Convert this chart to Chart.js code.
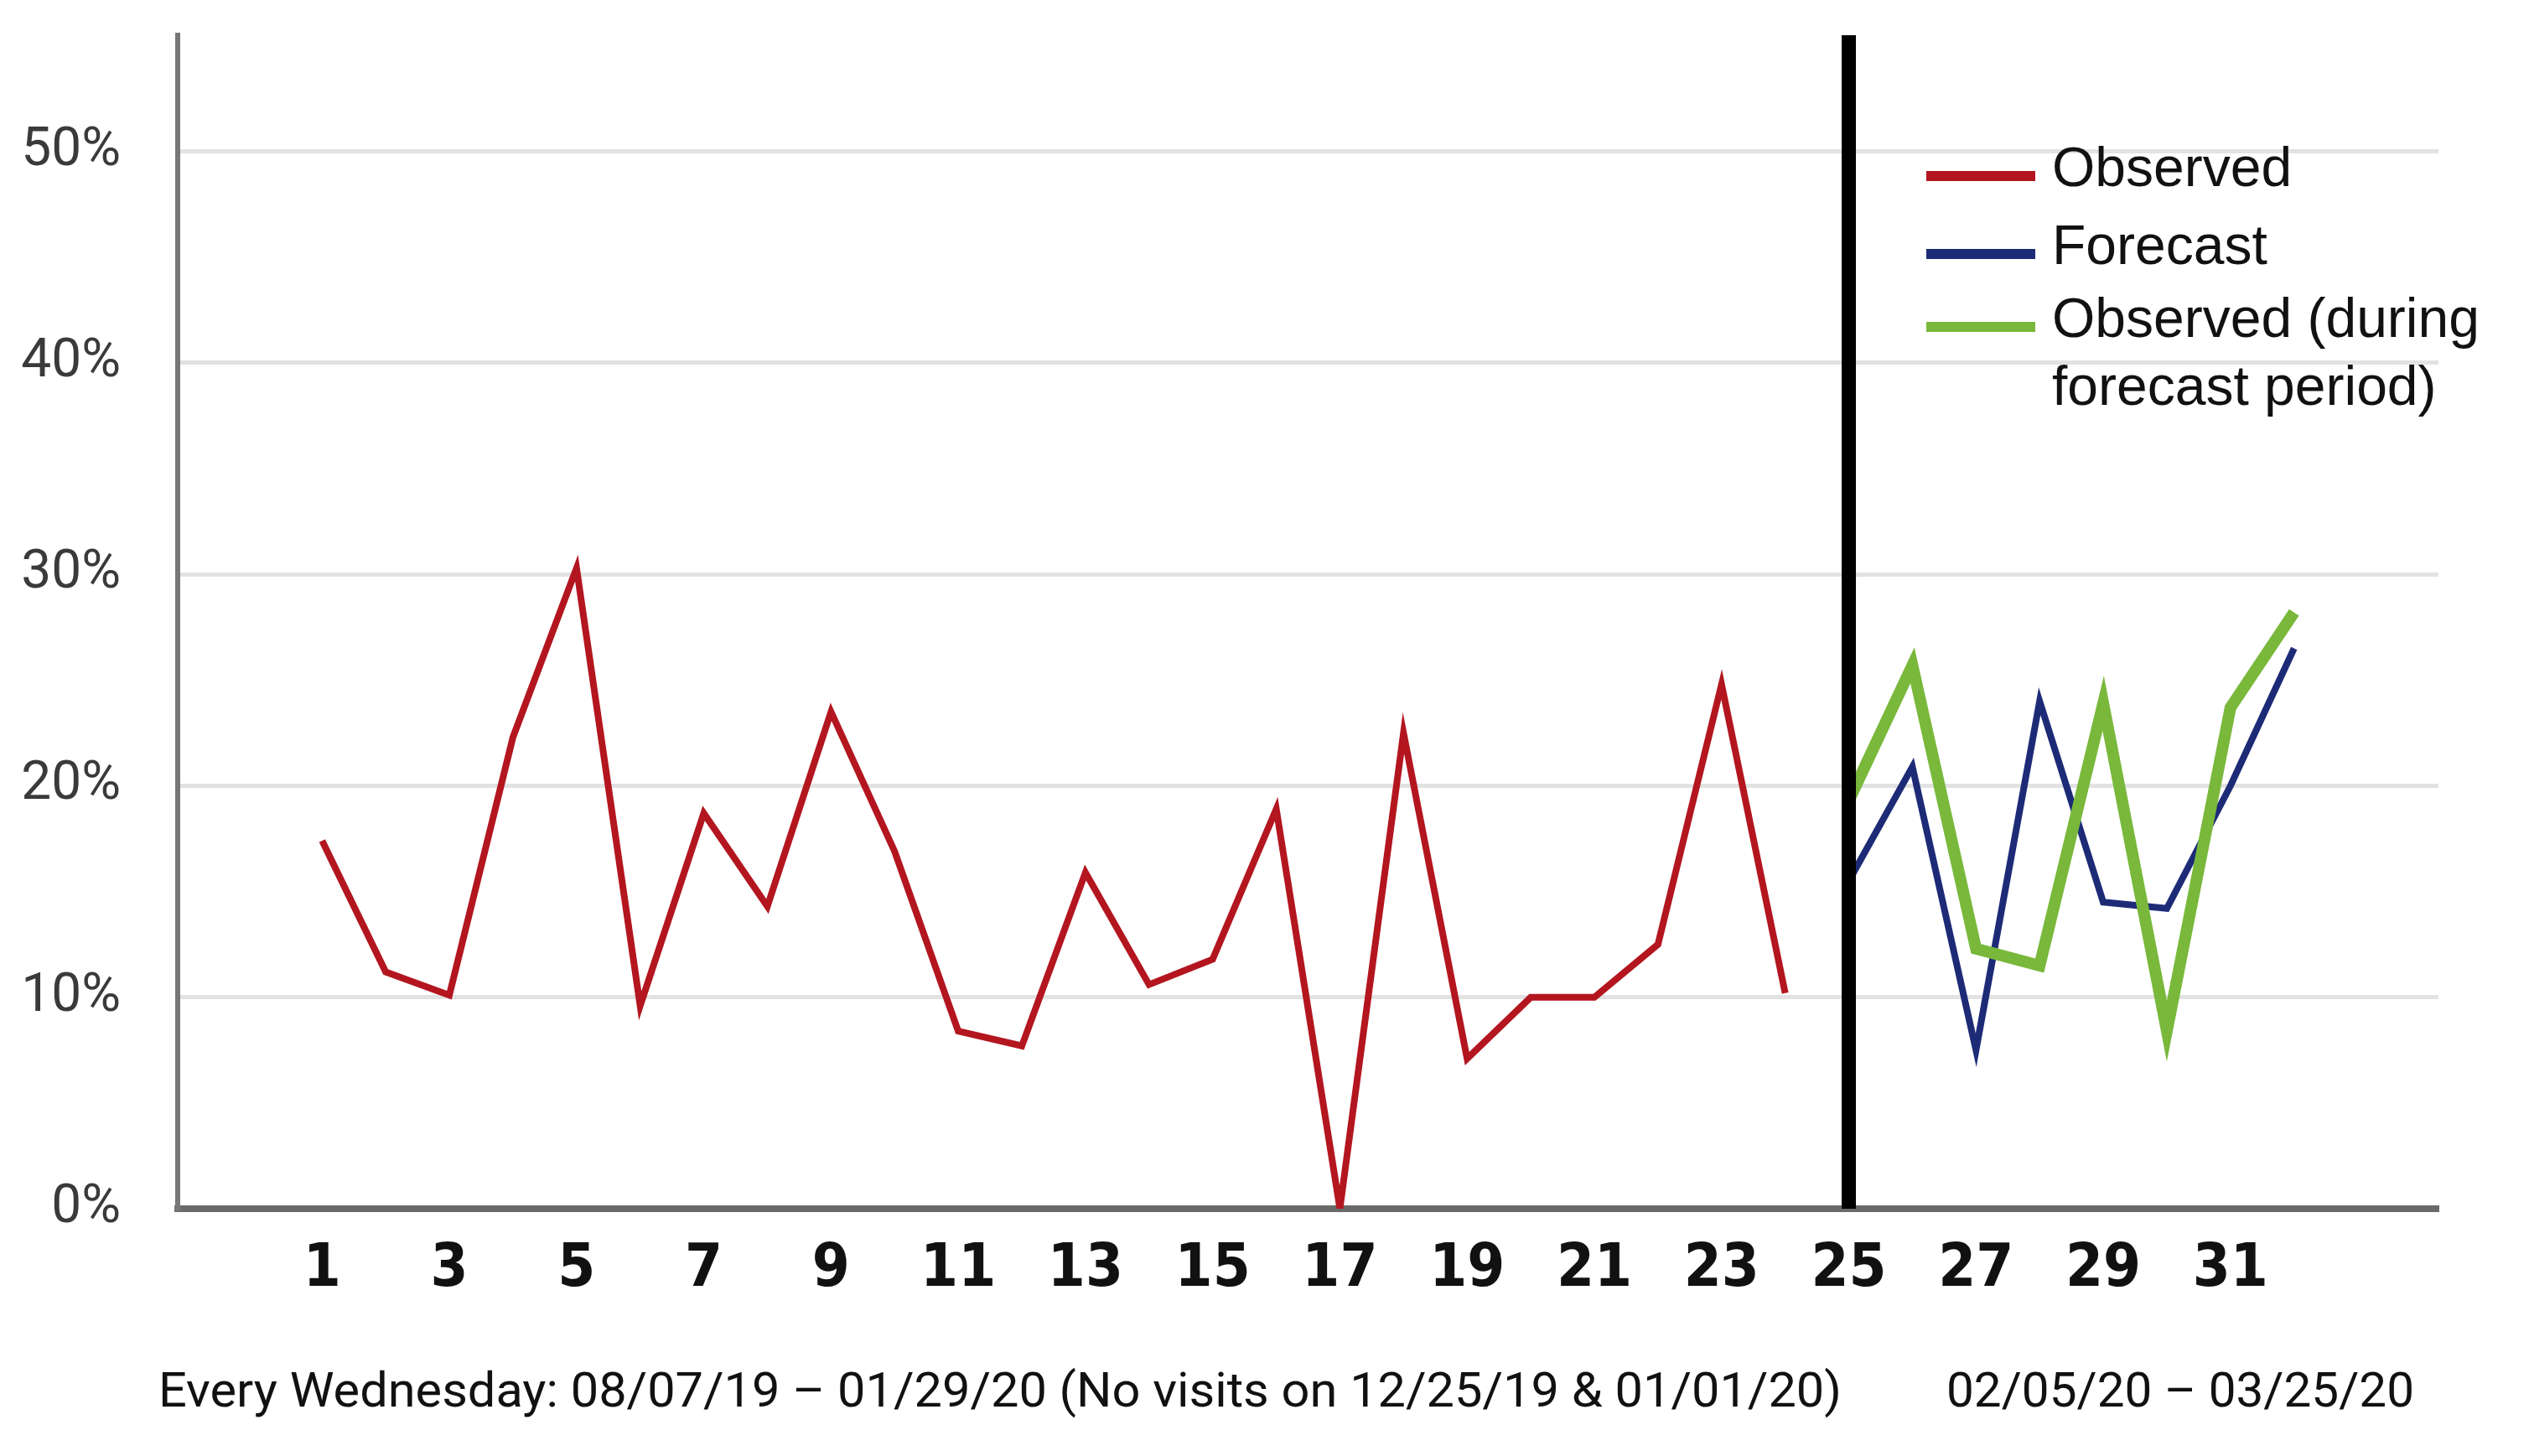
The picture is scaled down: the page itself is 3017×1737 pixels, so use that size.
<!DOCTYPE html>
<html>
<head>
<meta charset="utf-8">
<script src="https://cdn.jsdelivr.net/npm/chart.js@4/dist/chart.umd.min.js"></script>
<style>
  html, body { margin: 0; padding: 0; background: #ffffff; }
  #wrap { width: 3017px; height: 1737px; }
</style>
</head>
<body>
<div id="wrap"><canvas id="c" width="3017" height="1737"></canvas></div>
<script>
// ---- data ----
const observedWeeks = [1,2,3,4,5,6,7,8,9,10,11,12,13,14,15,16,17,18,19,20,21,22,23,24];
const observed = [17.4,11.2,10.1,22.3,30.3,9.6,18.7,14.3,23.5,16.9,8.4,7.7,15.9,10.6,11.8,18.9,0.0,22.5,7.1,10.0,10.0,12.5,24.8,10.2];
const forecastWeeks = [25,26,27,28,29,30,31,32];
const forecast = [15.5,20.9,7.5,24.0,14.5,14.2,20.0,26.5];
const observedDuringForecast = [19.3,25.7,12.3,11.5,23.9,8.4,23.7,28.2];
const forecastStartWeek = 25;
const xTickLabels = [1,3,5,7,9,11,13,15,17,19,21,23,25,27,29,31];
const yTickLabels = [0,10,20,30,40,50];
const yMax = 55.5;
const seriesNames = ["Observed", "Forecast", "Observed (during\nforecast period)"];
const captions = ["Every Wednesday: 08/07/19 \u2013 01/29/20 (No visits on 12/25/19 & 01/01/20)", "02/05/20 \u2013 03/25/20"];

const toPts = (xs, ys) => xs.map((x, i) => ({x: x, y: ys[i]}));

const RED = '#B3161F', BLUE = '#1D2B77', GREEN = '#79B83B';

const legendPlugin = {
  id: 'customLegend',
  afterDraw(chart) {
    const ctx = chart.ctx;
    const items = [
      {name: seriesNames[0], color: RED, y: 210},
      {name: seriesNames[1], color: BLUE, y: 303},
      {name: seriesNames[2], color: GREEN, y: 390}
    ];
    ctx.save();
    ctx.font = '66px "Liberation Sans", Arial, sans-serif';
    ctx.textBaseline = 'middle';
    ctx.textAlign = 'left';
    items.forEach(it => {
      ctx.strokeStyle = it.color;
      ctx.lineWidth = 12;
      ctx.beginPath();
      ctx.moveTo(2298, it.y);
      ctx.lineTo(2428, it.y);
      ctx.stroke();
      ctx.fillStyle = '#111111';
      const lines = it.name.split('\n');
      lines.forEach((ln, k) => ctx.fillText(ln, 2448, it.y - 6 + k * 81));
    });
    // captions below the axis
    ctx.font = '58px Roboto, "Noto Sans", sans-serif';
    ctx.textBaseline = 'alphabetic';
    ctx.fillStyle = '#111111';
    const capPos = [[189, 2008], [2322, 558]];
    captions.forEach((t, i) => {
      const w = ctx.measureText(t).width;
      ctx.save();
      ctx.translate(capPos[i][0], 1678);
      ctx.scale(capPos[i][1] / w, 1);
      ctx.fillText(t, 0, 0);
      ctx.restore();
    });
    ctx.restore();
  }
};

new Chart(document.getElementById('c'), {
  type: 'line',
  data: {
    datasets: [
      {
        label: 'divider',
        data: [{x: forecastStartWeek, y: 0}, {x: forecastStartWeek, y: yMax}],
        borderColor: '#000000', borderWidth: 17, pointRadius: 0, tension: 0
      },
      {
        label: seriesNames[2],
        data: toPts(forecastWeeks, observedDuringForecast),
        borderColor: GREEN, borderWidth: 14, pointRadius: 0, tension: 0
      },
      {
        label: seriesNames[1],
        data: toPts(forecastWeeks, forecast),
        borderColor: BLUE, borderWidth: 8, pointRadius: 0, tension: 0
      },
      {
        label: seriesNames[0],
        data: toPts(observedWeeks, observed),
        borderColor: RED, borderWidth: 8, pointRadius: 0, tension: 0
      }
    ]
  },
  options: {
    responsive: false,
    animation: false,
    devicePixelRatio: 1,
    layout: { padding: { top: 42, right: 108, left: 0, bottom: 0 } },
    plugins: { legend: { display: false }, tooltip: { enabled: false } },
    elements: { line: { borderJoinStyle: 'miter', borderCapStyle: 'butt' } },
    scales: {
      x: {
        type: 'linear',
        min: -1.27, max: 34.27,
        afterBuildTicks: s => { s.ticks = xTickLabels.map(v => ({value: v})); },
        afterFit: s => { s.height = 295; s.paddingLeft = 0; s.paddingRight = 0; },
        grid: { display: false, drawTicks: false },
        border: { display: true, color: '#6a6a6a', width: 8 },
        ticks: {
          padding: 30,
          color: '#111111',
          font: { family: '"Liberation Sans Narrow", "DejaVu Sans Condensed", "Liberation Sans", Arial, sans-serif', size: 72, weight: 'bold' },
          callback: v => String(v),
          maxRotation: 0, autoSkip: false
        }
      },
      y: {
        type: 'linear',
        min: 0, max: yMax,
        afterBuildTicks: s => { s.ticks = yTickLabels.map(v => ({value: v})); },
        afterFit: s => { s.width = 212; s.paddingTop = 0; s.paddingBottom = 0; },
        grid: { color: '#e2e2e2', lineWidth: 5, drawTicks: false },
        border: { display: true, color: '#777777', width: 6 },
        ticks: {
          padding: 68,
          color: '#3a3a3a',
          font: { family: 'Roboto, "Noto Sans", sans-serif', size: 64 },
          callback: v => v + '%'
        }
      }
    }
  },
  plugins: [legendPlugin]
});
</script>
</body>
</html>
